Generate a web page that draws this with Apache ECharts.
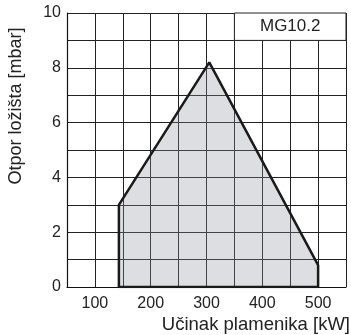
<!DOCTYPE html>
<html><head><meta charset="utf-8">
<script src="https://cdn.jsdelivr.net/npm/echarts@6/dist/echarts.min.js"></script>
<style>html,body{margin:0;padding:0;background:#fff}#c{width:351px;height:335px}</style>
</head><body><div id="c"></div>
<script>
const xTickLabels = [100, 200, 300, 400, 500];
const yTickLabels = [0, 2, 4, 6, 8, 10];
const rangeX = [143, 143, 305, 500, 500, 143];
const rangeY = [0, 3, 8.2, 0.8, 0, 0];
const modelName = 'MG10.2';
const xTitle = 'Učinak plamenika [kW]';
const yTitle = 'Otpor ložišta [mbar]';

const chart = echarts.init(document.getElementById('c'));
const font = 'Liberation Sans, Arial, sans-serif';
chart.setOption({
  animation: false,
  grid: {left: 67, right: 5, top: 13, bottom: 48, containLabel: false, outerBoundsMode: 'none'},
  xAxis: {
    type: 'value', min: 50, max: 550, interval: 50,
    axisLine: {show: true, lineStyle: {color: '#111', width: 1.2}},
    axisTick: {show: false},
    splitLine: {show: true, lineStyle: {color: '#222', width: 1}},
    axisLabel: {
      color: '#222', fontSize: 16, fontFamily: font, margin: 9,
      formatter: v => xTickLabels.includes(v) ? String(v) : ''
    },
    name: xTitle, nameLocation: 'end', nameGap: 4,
    nameTextStyle: {color: '#222', fontSize: 18.5, fontFamily: font, align: 'right', verticalAlign: 'top', padding: [28, 0, 0, 0]}
  },
  yAxis: {
    type: 'value', min: 0, max: 10, interval: 1,
    axisLine: {show: true, lineStyle: {color: '#111', width: 1.2}},
    axisTick: {show: false},
    splitLine: {show: true, lineStyle: {color: '#222', width: 1}},
    axisLabel: {
      color: '#222', fontSize: 16, fontFamily: font, margin: 6,
      formatter: v => yTickLabels.includes(v) ? String(v) : ''
    },
    name: yTitle, nameLocation: 'middle', nameGap: 42,
    nameTextStyle: {color: '#222', fontSize: 18, fontFamily: font, padding: [0, 0, 0, 88]}
  },
  series: [{
    type: 'line',
    data: rangeX.map((x, i) => [x, rangeY[i]]),
    symbol: 'none',
    lineStyle: {color: '#1a1a1a', width: 2.5},
    areaStyle: {color: 'rgba(140,145,155,0.3)', opacity: 1},
    markArea: {
      silent: true,
      itemStyle: {color: '#fff', borderColor: '#222', borderWidth: 1},
      label: {show: true, position: 'inside', color: '#222', fontSize: 17, fontFamily: font},
      data: [[{name: modelName, coord: [350, 9]}, {coord: [550, 10]}]]
    },
    z: 3
  }]
});
</script></body></html>
